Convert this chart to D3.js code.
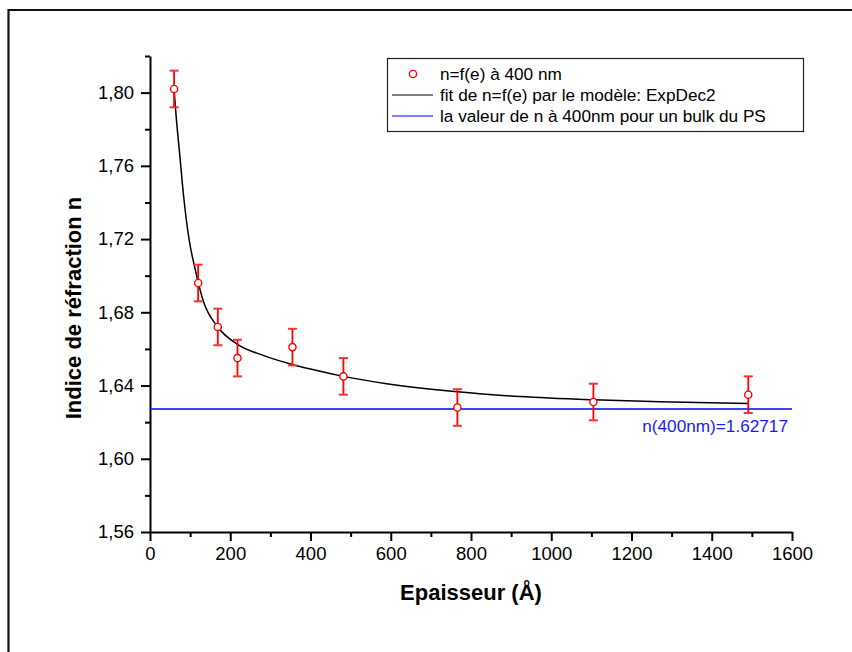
<!DOCTYPE html>
<html lang="fr">
<head>
<meta charset="utf-8">
<title>Indice de réfraction vs épaisseur</title>
<script src="https://d3js.org/d3.v7.min.js"></script>
<style>
  body { margin: 0; background: #fff; }
  svg { display: block; font-family: "Liberation Sans", Arial, sans-serif; }
</style>
</head>
<body>
<script>
// measured points: thickness (Å), refractive index, error
var thickness = [60, 120, 169, 218, 355, 482, 766, 1105, 1491];
var nValues   = [1.802, 1.696, 1.672, 1.655, 1.661, 1.645, 1.628, 1.631, 1.635];
var nErrors   = [0.01, 0.01, 0.01, 0.01, 0.01, 0.01, 0.01, 0.01, 0.01];

// ExpDec2 fit curve
var fitX = [60, 63, 75, 84, 98, 110, 133, 169, 218, 282, 355, 400, 482, 590, 766, 922, 1105, 1271, 1491];
var fitN = [1.802, 1.793, 1.764, 1.743, 1.719, 1.706, 1.686, 1.672, 1.6625, 1.6565, 1.6515, 1.649, 1.645, 1.641, 1.6366, 1.634, 1.6322, 1.6311, 1.6302];

// bulk value
var nBulk = 1.62717;
var bulkLabel = "n(400nm)=1.62717";

var xMajor = [0, 200, 400, 600, 800, 1000, 1200, 1400, 1600];
var xMinor = [100, 300, 500, 700, 900, 1100, 1300, 1500];
var yMajor = [1.56, 1.60, 1.64, 1.68, 1.72, 1.76, 1.80];
var yMinor = [1.58, 1.62, 1.66, 1.70, 1.74, 1.78, 1.82];

var legendLabels = ["n=f(e) à 400 nm", "fit de n=f(e) par le modèle: ExpDec2", "la valeur de n à 400nm pour un bulk du PS"];

var width = 852, height = 652;

var svg = d3.select("body").append("svg")
    .attr("width", width)
    .attr("height", height);

// outer frame (only left and top edges visible)
svg.append("path")
    .attr("d", "M8.5," + height + "V10H" + width)
    .attr("fill", "none")
    .attr("stroke", "#111")
    .attr("stroke-width", 2.2);

var x = d3.scaleLinear().domain([0, 1600]).range([150, 792]);
var y = d3.scaleLinear().domain([1.56, 1.82]).range([532, 56]);

var comma = function(d) { return d3.format(".2f")(d).replace(".", ","); };

// x axis
var gx = svg.append("g").attr("transform", "translate(0,532)");
gx.call(d3.axisBottom(x).tickValues(xMajor).tickSize(9).tickSizeOuter(0).tickPadding(6).tickFormat(d3.format("d")));
gx.append("g").call(d3.axisBottom(x).tickValues(xMinor).tickSize(5).tickFormat(""))
    .select(".domain").remove();

// y axis
var gy = svg.append("g").attr("transform", "translate(150,0)");
gy.call(d3.axisLeft(y).tickValues(yMajor).tickSize(9).tickSizeOuter(0).tickPadding(7).tickFormat(comma));
gy.append("g").call(d3.axisLeft(y).tickValues(yMinor).tickSize(5).tickFormat(""))
    .select(".domain").remove();

svg.selectAll(".domain, .tick line")
    .attr("stroke", "#000")
    .attr("stroke-width", 2);
svg.selectAll(".tick text")
    .attr("font-size", 18.5)
    .attr("font-family", "Liberation Sans, Arial, sans-serif")
    .attr("fill", "#000");

// axis titles
svg.append("text")
    .attr("x", 471).attr("y", 600)
    .attr("text-anchor", "middle")
    .attr("font-size", 22).attr("font-weight", "bold")
    .text("Epaisseur (Å)");

svg.append("text")
    .attr("transform", "translate(81,308) rotate(-90)")
    .attr("text-anchor", "middle")
    .attr("font-size", 22).attr("font-weight", "bold")
    .text("Indice de réfraction n");

// bulk line
svg.append("line")
    .attr("x1", x(0)).attr("x2", x(1600))
    .attr("y1", y(nBulk)).attr("y2", y(nBulk))
    .attr("stroke", "#0000ff")
    .attr("stroke-width", 1.5);

svg.append("text")
    .attr("x", 788).attr("y", y(nBulk) + 23)
    .attr("text-anchor", "end")
    .attr("font-size", 17.2)
    .attr("fill", "#1a1aff")
    .text(bulkLabel);

// fit curve
var fitLine = d3.line()
    .x(function(d, i) { return x(fitX[i]); })
    .y(function(d) { return y(d); })
    .curve(d3.curveMonotoneX);

svg.append("path")
    .datum(fitN)
    .attr("d", fitLine)
    .attr("fill", "none")
    .attr("stroke", "#000")
    .attr("stroke-width", 1.5);

// error bars
var points = thickness.map(function(t, i) {
    return { x: t, n: nValues[i], e: nErrors[i] };
});

var pt = svg.append("g").selectAll("g")
    .data(points)
    .enter().append("g");

pt.append("line")
    .attr("x1", function(d) { return x(d.x); })
    .attr("x2", function(d) { return x(d.x); })
    .attr("y1", function(d) { return y(d.n + d.e); })
    .attr("y2", function(d) { return y(d.n - d.e); })
    .attr("stroke", "#ff0000")
    .attr("stroke-width", 1.8);

[1, -1].forEach(function(s) {
    pt.append("line")
        .attr("x1", function(d) { return x(d.x) - 4.5; })
        .attr("x2", function(d) { return x(d.x) + 4.5; })
        .attr("y1", function(d) { return y(d.n + s * d.e); })
        .attr("y2", function(d) { return y(d.n + s * d.e); })
        .attr("stroke", "#ff3030")
        .attr("stroke-width", 2);
});

pt.append("circle")
    .attr("cx", function(d) { return x(d.x); })
    .attr("cy", function(d) { return y(d.n); })
    .attr("r", 3.6)
    .attr("fill", "#fff")
    .attr("stroke", "#ff0000")
    .attr("stroke-width", 1.4);

// legend
var legend = svg.append("g");
legend.append("rect")
    .attr("x", 387.5).attr("y", 58.5)
    .attr("width", 416).attr("height", 73)
    .attr("fill", "#fff")
    .attr("stroke", "#222")
    .attr("stroke-width", 1.2);

var rowY = [74, 95, 116];

legend.append("circle")
    .attr("cx", 413).attr("cy", rowY[0])
    .attr("r", 3.6)
    .attr("fill", "#fff")
    .attr("stroke", "#ff0000")
    .attr("stroke-width", 1.4);

legend.append("line")
    .attr("x1", 392).attr("x2", 433)
    .attr("y1", rowY[1]).attr("y2", rowY[1])
    .attr("stroke", "#000").attr("stroke-width", 1.2);

legend.append("line")
    .attr("x1", 392).attr("x2", 433)
    .attr("y1", rowY[2]).attr("y2", rowY[2])
    .attr("stroke", "#0000ff").attr("stroke-width", 1.2);

legend.selectAll("text.lab")
    .data(legendLabels)
    .enter().append("text")
    .attr("class", "lab")
    .attr("x", 440)
    .attr("y", function(d, i) { return rowY[i] + 6; })
    .attr("font-size", 17.2)
    .attr("fill", "#000")
    .text(function(d) { return d; });
</script>
</body>
</html>
